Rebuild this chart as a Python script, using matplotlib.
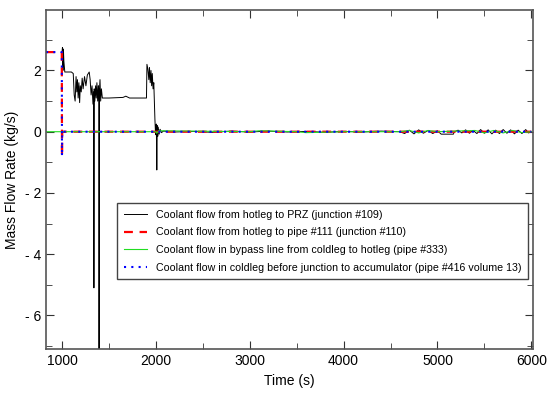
import numpy as np
import matplotlib
matplotlib.use("Agg")
import matplotlib.pyplot as plt
from matplotlib.ticker import MultipleLocator, FuncFormatter

plt.rcParams['font.family'] = ['Liberation Sans', 'DejaVu Sans']

# Junction #109 : hotleg -> PRZ
t_prz = [1000, 1005, 1010, 1015, 1020, 1030, 1060, 1100, 1120, 1130, 1140, 1150,
         1158, 1165, 1172, 1180, 1188, 1195, 1205, 1215, 1225, 1240, 1255, 1270,
         1290, 1300, 1310, 1320, 1330, 1338, 1340, 1343, 1350, 1358, 1365, 1372,
         1380, 1388, 1393, 1395, 1398, 1405, 1412, 1420, 1430, 1500, 1650, 1680,
         1720, 1900, 1905, 1915, 1925, 1932, 1940, 1948, 1955, 1962, 1970, 1978,
         1985, 1990, 1995, 2000, 2005, 2010, 2015, 2020, 2025, 2035, 2045, 2060,
         2080, 2200, 2400, 2600, 2800, 3000, 3200, 3400, 3600, 3800, 4000, 4200,
         4400, 4600, 4650, 4700, 4750, 4800, 4850, 4900, 4950, 5000, 5040, 5050,
         5170, 5180, 5220, 5260, 5300, 5340, 5380, 5420, 5460, 5500, 5540, 5580,
         5620, 5660, 5700, 5740, 5780, 5820, 5860, 5900, 5940, 5970, 6000]
m_prz = [2.6, 2.75, 2.0, 2.7, 2.3, 1.95, 1.95, 1.95, 1.9, 1.2, 1.0, 1.8,
         1.3, 1.7, 1.1, 1.6, 0.95, 1.5, 1.3, 1.75, 1.4, 1.8, 1.5, 1.85,
         1.95, 1.7, 1.2, 1.5, 0.9, 1.3, -5.1, 1.4, 1.0, 1.5, 1.1, 1.6,
         1.0, 1.5, 1.2, -7.1, 1.3, 1.7, 1.0, 1.4, 1.1, 1.1, 1.12, 1.16,
         1.1, 1.1, 2.2, 2.05, 1.7, 2.1, 1.6, 2.0, 1.5, 1.9, 1.4, 1.6,
         0.9, 0.4, 0.05, -0.1, 0.25, -1.25, 0.2, -0.15, 0.15, -0.08, 0.08, -0.03,
         0.02, -0.01, 0.01, -0.02, 0.02, -0.01, 0.02, -0.01, 0.01, -0.02, 0.01, -0.01,
         0.02, 0.0, -0.06, 0.05, -0.07, 0.06, -0.05, 0.04, -0.06, 0.03, -0.08, -0.08,
         -0.08, 0.0, 0.05, -0.04, 0.06, -0.05, 0.04, -0.06, 0.07, -0.05, 0.06, -0.07,
         0.05, -0.06, 0.07, -0.05, 0.06, -0.07, 0.05, -0.06, 0.07, -0.04, 0.0]

# Junction #110 : hotleg -> pipe #111
t_hot = [830, 998, 1000, 1002, 1010, 6000]
m_hot = [2.6, 2.6, -0.8, 0.0, 0.0, 0.0]

# Pipe #333 : bypass line
t_byp = [830, 2000, 2010, 2030, 3000, 3100, 3500, 3600, 4000, 4600, 4700, 4800,
         4900, 5000, 5400, 5500, 5600, 5700, 5800, 5900, 6000]
m_byp = [0.0, 0.0, -0.05, 0.03, 0.0, 0.03, 0.0, -0.03, 0.0, 0.0, 0.04, -0.04,
         0.04, 0.0, 0.04, -0.04, 0.04, -0.04, 0.04, -0.03, 0.0]

# Pipe #416 volume 13 : coldleg before accumulator
t_cold = [830, 998, 1000, 1002, 6000]
m_cold = [2.6, 2.6, -0.8, 0.0, 0.0]

labels = ["Coolant flow from hotleg to PRZ (junction #109)",
          "Coolant flow from hotleg to pipe #111 (junction #110)",
          "Coolant flow in bypass line from coldleg to hotleg (pipe #333)",
          "Coolant flow in coldleg before junction to accumulator (pipe #416 volume 13)"]

fig = plt.figure(figsize=(5.48, 3.94), dpi=100)
ax = fig.add_axes([0.084, 0.114, 0.889, 0.861])

ax.plot(t_prz, m_prz, color='black', lw=0.7, label=labels[0])
ax.plot(t_hot, m_hot, color='red', lw=1.6, ls=(0, (4, 3)), label=labels[1])
ax.plot(t_byp, m_byp, color='#22dd22', lw=0.8, label=labels[2])
ax.plot(t_cold, m_cold, color='blue', lw=1.5, ls=(0, (1, 2.5)), label=labels[3])

ax.set_xlim(830, 6020)
ax.set_ylim(-7.1, 3.98)
ax.xaxis.set_major_locator(MultipleLocator(1000))
ax.xaxis.set_minor_locator(MultipleLocator(500))
ax.yaxis.set_major_locator(MultipleLocator(2))
ax.yaxis.set_minor_locator(MultipleLocator(1))
ax.yaxis.set_major_formatter(FuncFormatter(
    lambda v, p: f"- {abs(int(round(v)))}" if v < 0 else f"{int(round(v))}"))
ax.tick_params(which='both', direction='in', top=True, right=True, color='#333333')
ax.tick_params(which='major', length=6, labelsize=10)
ax.tick_params(which='minor', length=4)
for s in ax.spines.values():
    s.set_color('#555555')
    s.set_linewidth(1.2)

ax.set_xlabel("Time (s)", fontsize=10)
ax.set_ylabel("Mass Flow Rate (kg/s)", fontsize=10)

leg = ax.legend(loc='lower right', bbox_to_anchor=(1.0, 0.19), fontsize=7.7,
                fancybox=False, edgecolor='#444444', framealpha=1,
                handlelength=2.2, borderpad=0.6, labelspacing=0.72)
leg.get_frame().set_linewidth(1.0)

fig.savefig("out.png", dpi=100)
